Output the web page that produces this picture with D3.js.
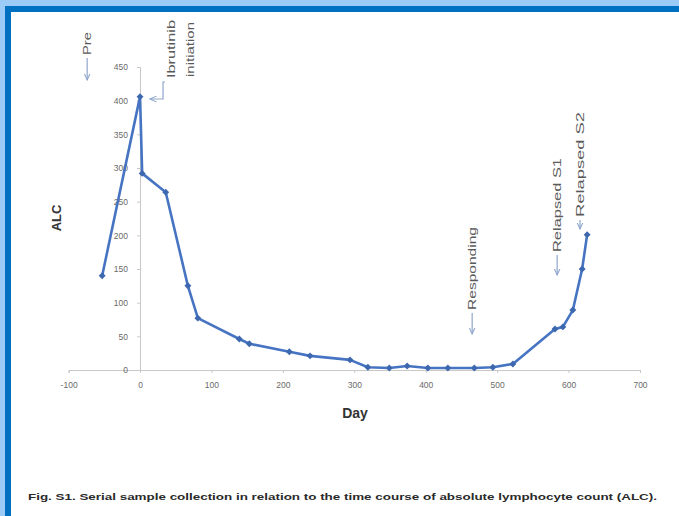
<!DOCTYPE html>
<html>
<head>
<meta charset="utf-8">
<script src="https://cdn.jsdelivr.net/npm/d3@7"></script>
<style>
  body { margin: 0; background: #fff; }
  svg { display: block; }
</style>
</head>
<body>
<script>
// data
const days = [-53, 0, 3, 36, 67, 81, 139, 153, 209, 238, 294, 319, 349, 374, 403, 431, 468, 494, 522, 581, 592, 606, 619, 626];
const alc = [140, 406, 292, 264, 125, 77, 46, 39, 27, 21, 15, 4, 3, 6, 3, 3, 3, 4, 9, 61, 64, 89, 150, 201];
const xTicks = [-100, 0, 100, 200, 300, 400, 500, 600, 700];
const yTicks = [0, 50, 100, 150, 200, 250, 300, 350, 400, 450];
const noteLabels = ["Pre", "Responding", "Relapsed  S1", "Relapsed  S2"];
const noteDays = [-74, 465, 584, 616];
const caption = "Fig. S1.  Serial sample collection in relation to the time course of absolute lymphocyte count (ALC).";

const width = 679, height = 516;
const svg = d3.select('body').append('svg')
  .attr('width', width).attr('height', height);

// frame
svg.append('rect').attr('x', 0).attr('y', 0).attr('width', width).attr('height', 6).attr('fill', '#9ccbf8');
svg.append('rect').attr('x', 0).attr('y', 0).attr('width', 5).attr('height', height).attr('fill', '#9ccbf8');
svg.append('rect').attr('x', 5).attr('y', 6).attr('width', width - 5).attr('height', 6).attr('fill', '#0070c0');
svg.append('rect').attr('x', 5).attr('y', 6).attr('width', 6).attr('height', height - 6).attr('fill', '#0070c0');

const x = d3.scaleLinear().domain([-100, 700]).range([68.6, 640]);
const y = d3.scaleLinear().domain([0, 450]).range([370, 67]);

// axes
const gx = svg.append('g').attr('transform', `translate(0, ${y(0)})`)
  .call(d3.axisBottom(x).tickValues(xTicks).tickSize(3).tickPadding(9).tickFormat(d => String(d)));
const gy = svg.append('g').attr('transform', `translate(${x(0)}, 0)`)
  .call(d3.axisLeft(y).tickValues(yTicks).tickSize(3).tickPadding(9));
[gx, gy].forEach(g => {
  g.select('.domain').attr('stroke', '#c8c8c8');
  g.selectAll('.tick line').attr('stroke', '#c8c8c8');
  g.selectAll('.tick text').attr('fill', '#6a6a6a')
    .style('font-family', 'Liberation Sans, Arial, sans-serif').style('font-size', '8.5px');
});

// axis titles
svg.append('text').attr('transform', 'translate(56, 218) rotate(-90)')
  .attr('text-anchor', 'middle').attr('dominant-baseline', 'central')
  .style('font-family', 'Liberation Sans, Arial, sans-serif').style('font-size', '13px')
  .style('font-weight', 'bold').attr('fill', '#333').text('ALC');
svg.append('text').attr('x', 355).attr('y', 413)
  .attr('text-anchor', 'middle').attr('dominant-baseline', 'central')
  .style('font-family', 'Liberation Sans, Arial, sans-serif').style('font-size', '14px')
  .style('font-weight', 'bold').attr('fill', '#333').text('Day');

// series
const pts = days.map((d, i) => [d, alc[i]]);
svg.append('path').datum(pts)
  .attr('fill', 'none').attr('stroke', '#4674c2').attr('stroke-width', 2.6)
  .attr('stroke-linejoin', 'round')
  .attr('d', d3.line().x(d => x(d[0])).y(d => y(d[1])));
svg.append('g').selectAll('path').data(pts).enter().append('path')
  .attr('transform', d => `translate(${x(d[0])}, ${y(d[1])}) rotate(45)`)
  .attr('d', d3.symbol().type(d3.symbolSquare).size(24))
  .attr('fill', '#3d68b0');

// annotations
const defs = svg.append('defs');
defs.append('marker').attr('id', 'ah').attr('viewBox', '0 0 10 10')
  .attr('refX', 9).attr('refY', 5).attr('markerWidth', 6).attr('markerHeight', 6)
  .attr('orient', 'auto-start-reverse')
  .append('path').attr('d', 'M0,1 L9,5 L0,9').attr('fill', 'none').attr('stroke', '#8fa6cc').attr('stroke-width', 1.5);

const noteTop = [32, 227, 158, 112];
const noteBottom = [55, 310, 252, 217];
const noteArrowEnd = [80, 334, 275, 229];
const fontAnno = 'Liberation Sans, Arial, sans-serif';

noteLabels.forEach((t, i) => {
  const cx = x(noteDays[i]);
  svg.append('text')
    .attr('transform', `translate(${cx}, ${noteBottom[i]}) rotate(-90)`)
    .attr('dominant-baseline', 'central')
    .attr('textLength', noteBottom[i] - noteTop[i]).attr('lengthAdjust', 'spacingAndGlyphs')
    .style('font-family', fontAnno).style('font-size', '10px').attr('fill', '#5a5a5a')
    .text(t);
  svg.append('line')
    .attr('x1', cx).attr('x2', cx)
    .attr('y1', noteBottom[i] + 3).attr('y2', noteArrowEnd[i])
    .attr('stroke', '#8fa6cc').attr('stroke-width', 1.2)
    .attr('marker-end', 'url(#ah)');
});

// ibrutinib callout
const x0 = x(0);
svg.append('path')
  .attr('d', `M${x0 + 25},82 H${x0 + 23} V99 H${x0 + 10}`)
  .attr('fill', 'none').attr('stroke', '#8fa6cc').attr('stroke-width', 1.2)
  .attr('marker-end', 'url(#ah)');
[['Ibrutinib', 171, 20, 78], ['initiation', 190, 22, 77]].forEach(([t, cx, top, bot]) => {
  svg.append('text')
    .attr('transform', `translate(${cx}, ${bot}) rotate(-90)`)
    .attr('dominant-baseline', 'central')
    .attr('textLength', bot - top).attr('lengthAdjust', 'spacingAndGlyphs')
    .style('font-family', fontAnno).style('font-size', '10px').attr('fill', '#5a5a5a')
    .text(t);
});

// caption
svg.append('text').attr('x', 28).attr('y', 496)
  .attr('dominant-baseline', 'central')
  .attr('textLength', 629).attr('lengthAdjust', 'spacingAndGlyphs')
  .style('font-family', 'Liberation Sans, Arial, sans-serif').style('font-size', '9.5px')
  .style('font-weight', 'bold').attr('fill', '#2a2a2a')
  .text(caption);
</script>
</body>
</html>
